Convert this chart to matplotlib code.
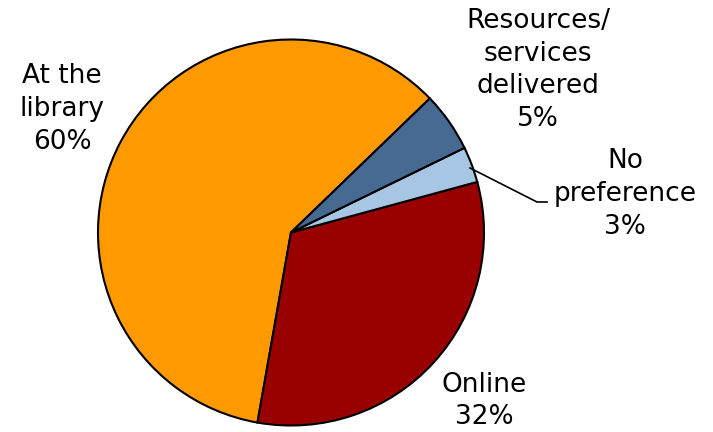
import matplotlib
matplotlib.use("Agg")
import matplotlib.pyplot as plt

labels = ["At the\nlibrary", "Online", "No\npreference", "Resources/\nservices\ndelivered"]
shares = [60, 32, 3, 5]
colors = ["#FF9900", "#990000", "#A6C6E3", "#466A91"]

W, H = 713, 432
cx, cy, r = 291, 232.5, 193

fig = plt.figure(figsize=(W / 100, H / 100), dpi=100)
ax = fig.add_axes([(cx - r) / W, (H - cy - r) / H, 2 * r / W, 2 * r / H])

ax.pie(shares, colors=colors, startangle=44, counterclock=True, radius=1,
       wedgeprops=dict(edgecolor="black", linewidth=1.5))
ax.set_xlim(-1, 1)
ax.set_ylim(-1, 1)
ax.set_aspect("equal")


def to_data(px, py):
    return (px - cx) / r, (cy - py) / r


label_pos = [(62, 109), (484, 401), (625, 194), (538, 70)]
for lab, val, (px, py) in zip(labels, shares, label_pos):
    x, y = to_data(px, py)
    ax.text(x, y, f"{lab}\n{val}%", ha="center", va="center",
            fontsize=19, family="DejaVu Sans", linespacing=1.33,
            clip_on=False)

# leader line for the small slice
pts = [to_data(470, 168), to_data(537, 202), to_data(547, 202)]
ax.plot([p[0] for p in pts], [p[1] for p in pts], color="black", lw=1.2,
        clip_on=False)

fig.savefig("out.png", dpi=100)
